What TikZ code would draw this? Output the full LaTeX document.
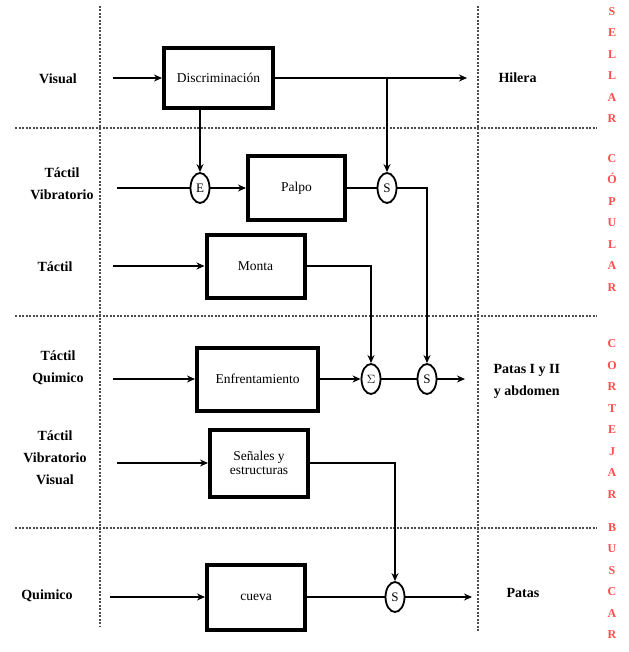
\documentclass[tikz,border=0pt]{standalone}
\usepackage{fontspec}
\setmainfont{Liberation Serif}
\usetikzlibrary{arrows.meta,shapes.geometric,calc}
\begin{document}
\begin{tikzpicture}[x=1pt,y=1pt,
  blk/.style={draw,line width=4pt,rectangle,inner sep=0pt,font=\fontsize{13.5}{14}\selectfont,align=center},
  sumnode/.style={draw,line width=1.8pt,ellipse,minimum width=19pt,minimum height=30pt,inner sep=0pt,font=\fontsize{13}{13}\selectfont},
  lbl/.style={font=\bfseries\fontsize{14}{22}\selectfont,align=center},
  conn/.style={line width=2.1pt},
  arr/.style={conn,-{Stealth[length=8pt,width=7pt]}},
  sep/.style={line width=1.5pt,gray!60!black,dash pattern=on 2pt off 1.5pt},
  phase/.style={font=\bfseries\fontsize{12}{21.5}\selectfont,text=red!70!white,align=center,inner sep=0pt}
]
\useasboundingbox (0,0) rectangle (628,-652);
% separators
\draw[sep] (100,-6) -- (100,-626);
\draw[sep] (478,-6) -- (478,-632);
\draw[sep] (15,-128) -- (597,-128);
\draw[sep] (15,-316) -- (597,-316);
\draw[sep] (15,-528) -- (597,-528);
% blocks
\node[blk,minimum width=109pt,minimum height=60pt] (disc) at (218.5,-78) {Discriminación};
\node[blk,minimum width=97pt,minimum height=64pt] (palpo) at (296.5,-188) {Palpo};
\node[blk,minimum width=98pt,minimum height=63pt] (monta) at (255.5,-266) {Monta};
\node[blk,minimum width=121pt,minimum height=63pt] (enf) at (257.5,-379) {Enfrentamiento};
\node[blk,minimum width=98pt,minimum height=67pt] (sen) at (259,-463) {Señales y\\estructuras};
\node[blk,minimum width=98pt,minimum height=65pt] (cueva) at (256,-597) {cueva};
% junctions
\node[sumnode] (cE) at (200,-188) {E};
\node[sumnode] (cS1) at (387,-188) {S};
\node[sumnode] (cSig) at (371,-379) {$\Sigma$};
\node[sumnode] (cS2) at (427,-379) {S};
\node[sumnode] (cS3) at (395,-597) {S};
% input labels
\node[lbl] (lVis) at (58,-79) {Visual};
\node[lbl] (lTV) at (62,-184) {Táctil\\Vibratorio};
\node[lbl] (lT) at (55,-267) {Táctil};
\node[lbl] (lTQ) at (58,-368) {Táctil\\Quimico};
\node[lbl] (lTVV) at (55,-458) {Táctil\\Vibratorio\\Visual};
\node[lbl] (lQ) at (47,-596) {Quimico};
% output labels
\node[lbl,anchor=west] (hil) at (495,-78) {Hilera};
\node[lbl,anchor=west] (pat12) at (490,-381) {Patas I y II\\y abdomen};
\node[lbl,anchor=west] (pat) at (503,-593) {Patas};
% phase letters
\node[phase] (ph1) at (612,-65) {S\\E\\L\\L\\A\\R};
\node[phase] (ph2) at (612,-223) {C\\Ó\\P\\U\\L\\A\\R};
\node[phase] (ph3) at (612,-419) {C\\O\\R\\T\\E\\J\\A\\R};
\node[phase] (ph4) at (612,-581) {B\\U\\S\\C\\A\\R};
% free ends
\coordinate (in1) at (113,-78);
\coordinate (in2) at (117,-188);
\coordinate (in3) at (113,-266);
\coordinate (in4) at (113,-379);
\coordinate (in5) at (117,-463);
\coordinate (in6) at (110,-597);
\coordinate (out1) at (467,-78);
\coordinate (out2) at (465,-379);
\coordinate (out3) at (472,-597);
\coordinate (br1) at (387,-78);
% connectors
\draw[arr] (in1) -- (disc.west);
\draw[arr] (disc.east) -- (out1);
\draw[arr] (br1) -- (cS1.north);
\draw[arr] (cE |- disc.south) -- (cE.north);
\draw[conn] (in2) -- (cE.west);
\draw[arr] (cE.east) -- (palpo.west);
\draw[conn] (palpo.east) -- (cS1.west);
\draw[arr] (cS1.east) -| (cS2.north);
\draw[arr] (in3) -- (monta.west);
\draw[arr] (monta.east) -| (cSig.north);
\draw[arr] (in4) -- (enf.west);
\draw[arr] (enf.east) -- (cSig.west);
\draw[conn] (cSig.east) -- (cS2.west);
\draw[arr] (cS2.east) -- (out2);
\draw[arr] (in5) -- (sen.west);
\draw[arr] (sen.east) -| (cS3.north);
\draw[arr] (in6) -- (cueva.west);
\draw[conn] (cueva.east) -- (cS3.west);
\draw[arr] (cS3.east) -- (out3);
\end{tikzpicture}
\end{document}
